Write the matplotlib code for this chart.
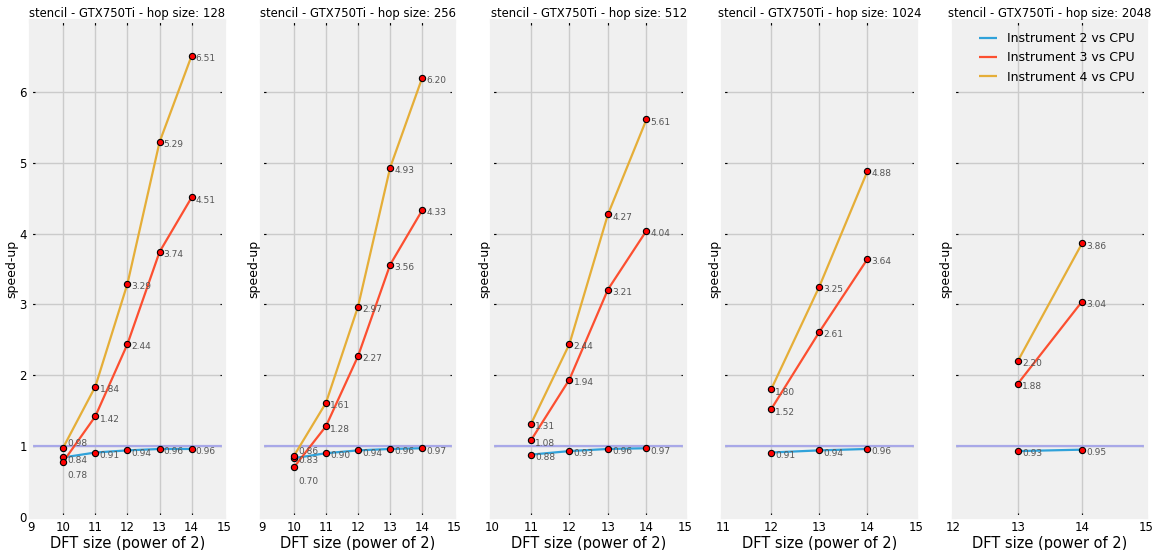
import numpy as np
import matplotlib.pyplot as plt

plt.style.use('fivethirtyeight')
plt.rcParams.update({'axes.facecolor': '#f0f0f0',
                     'figure.facecolor': 'white',
                     'savefig.facecolor': 'white',
                     'axes.edgecolor': '#f0f0f0',
                     'lines.linewidth': 1.6,
                     'grid.color': '#cbcbcb',
                     'grid.linewidth': 1.0,
                     'xtick.labelsize': 8.5,
                     'ytick.labelsize': 8.5,
                     'xtick.top': True,
                     'ytick.right': True,
                     'xtick.direction': 'in',
                     'ytick.direction': 'in',
                     'xtick.major.size': 3,
                     'ytick.major.size': 3,
                     'font.family': 'DejaVu Sans'})

hop_sizes = [128, 256, 512, 1024, 2048]
dft_sizes = [[10, 11, 12, 13, 14],
             [10, 11, 12, 13, 14],
             [11, 12, 13, 14],
             [12, 13, 14],
             [13, 14]]

inst2 = [[0.84, 0.91, 0.94, 0.96, 0.96],
         [0.83, 0.90, 0.94, 0.96, 0.97],
         [0.88, 0.93, 0.96, 0.97],
         [0.91, 0.94, 0.96],
         [0.93, 0.95]]
inst3 = [[0.78, 1.42, 2.44, 3.74, 4.51],
         [0.70, 1.28, 2.27, 3.56, 4.33],
         [1.08, 1.94, 3.21, 4.04],
         [1.52, 2.61, 3.64],
         [1.88, 3.04]]
inst4 = [[0.98, 1.84, 3.29, 5.29, 6.51],
         [0.86, 1.61, 2.97, 4.93, 6.20],
         [1.31, 2.44, 4.27, 5.61],
         [1.80, 3.25, 4.88],
         [2.20, 3.86]]

series = [('Instrument 2 vs CPU', inst2, '#30a2da'),
          ('Instrument 3 vs CPU', inst3, '#fc4f30'),
          ('Instrument 4 vs CPU', inst4, '#e5ae38')]

fig, axes = plt.subplots(1, 5, figsize=(11.52, 5.5), sharey=True)
fig.subplots_adjust(left=0.027, right=0.995, top=0.962, bottom=0.06, wspace=0.197)

for i, ax in enumerate(axes):
    xs = dft_sizes[i]
    ax.axhline(1.0, color='#a8a8e8', lw=1.6, zorder=1)
    for name, vals, col in series:
        ys = vals[i]
        ax.plot(xs, ys, color=col, lw=1.6, label=name, zorder=2)
        ax.plot(xs, ys, 'o', color='red', mec='black', mew=0.8, ms=4.5, zorder=3)
        for x, y in zip(xs, ys):
            dy = -2
            # the lowest of the crowded first points gets pushed down
            if x == xs[0] and name.startswith('Instrument 3') and y < inst2[i][0]:
                dy = -10
            if x == xs[0] and name.startswith('Instrument 4') and y < 1.0:
                dy = 3
            ax.annotate('%.2f' % y, (x, y), xytext=(3, dy), textcoords='offset points',
                        fontsize=6.5, color='#555555', va='center', ha='left', zorder=4)
    ax.set_xlim(xs[0] - 1, 15)
    ax.set_xticks(range(xs[0] - 1, 16))
    ax.set_ylim(0, 7)
    ax.set_yticks(range(0, 7))
    ax.set_title('stencil - GTX750Ti - hop size: %d' % hop_sizes[i], fontsize=8.4, pad=3)
    ax.set_xlabel('DFT size (power of 2)', fontsize=10.5, labelpad=1)
    ax.set_ylabel('speed-up', fontsize=9, labelpad=1)
    if i > 0:
        ax.tick_params(labelleft=False)
    ax.tick_params(pad=3)

axes[-1].legend(loc='upper right', fontsize=9, frameon=False, handlelength=1.5)
fig.savefig('out.png', dpi=100)
